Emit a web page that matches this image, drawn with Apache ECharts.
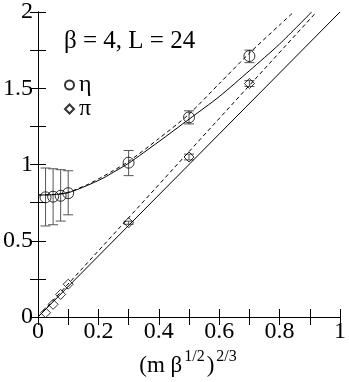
<!DOCTYPE html>
<html>
<head>
<meta charset="utf-8">
<script src="https://cdn.jsdelivr.net/npm/echarts@6/dist/echarts.min.js"></script>
<style>html,body{margin:0;padding:0;background:#fff}#c{width:349px;height:382px}</style>
</head>
<body>
<div id="c"></div>
<script>
// masses (x values)
const xVals = [0.025, 0.05, 0.075, 0.1, 0.3, 0.5, 0.7];
// eta data
const etaY  = [0.785, 0.789, 0.795, 0.812, 1.012, 1.309, 1.711];
const etaLo = [0.597, 0.605, 0.629, 0.670, 0.927, 1.266, 1.668];
const etaHi = [0.977, 0.972, 0.966, 0.959, 1.092, 1.352, 1.750];
// pi data
const piY  = [0.028, 0.083, 0.148, 0.215, 0.618, 1.049, 1.531];
const piLo = [0.028, 0.083, 0.148, 0.215, 0.608, 1.030, 1.512];
const piHi = [0.028, 0.083, 0.148, 0.215, 0.628, 1.068, 1.550];
// fit curves
const etaSolidX = [0, 0.05, 0.1, 0.16, 0.215, 0.25, 0.3, 0.4, 0.5, 0.6, 0.7, 0.8, 0.906];
const etaSolidY = [0.80, 0.802, 0.815, 0.86, 0.91, 0.95, 1.008, 1.15, 1.297, 1.445, 1.615, 1.79, 2.0];
const etaDashX = [0, 0.05, 0.1, 0.16, 0.2, 0.245, 0.3, 0.4, 0.5, 0.6, 0.7, 0.8, 0.847];
const etaDashY = [0.80, 0.803, 0.818, 0.865, 0.905, 0.955, 1.02, 1.17, 1.33, 1.53, 1.73, 1.915, 2.0];
const piDashX = [0, 0.922];
const piDashY = [0, 2.0];
const piSolidX = [0, 1];
const piSolidY = [0, 2];
// axis ticks
const xTicks = [0, 0.2, 0.4, 0.6, 0.8, 1];
const yTicks = [0, 0.5, 1, 1.5, 2];
const titleText = 'β = 4, L = 24';

const zip = (a, b) => a.map((v, i) => [v, b[i]]);
const zip3 = (a, b, c) => a.map((v, i) => [v, b[i], c[i]]);
const FONT = 'Liberation Serif';

function errRender(params, api) {
  const x = api.value(0), lo = api.value(1), hi = api.value(2);
  if (hi - lo < 1e-9) return null;
  const p1 = api.coord([x, lo]), p2 = api.coord([x, hi]);
  const w = 5;
  const st = { stroke: '#555', lineWidth: 1 };
  return { type: 'group', children: [
    { type: 'line', shape: { x1: p1[0], y1: p1[1], x2: p2[0], y2: p2[1] }, style: st },
    { type: 'line', shape: { x1: p1[0] - w, y1: p1[1], x2: p1[0] + w, y2: p1[1] }, style: st },
    { type: 'line', shape: { x1: p2[0] - w, y1: p2[1], x2: p2[0] + w, y2: p2[1] }, style: st }
  ]};
}

const axisCommon = {
  min: 0,
  axisLine: { show: true, lineStyle: { color: '#000', width: 1 } },
  axisTick: { show: true, inside: true, length: 8, lineStyle: { color: '#000' } },
  minorTick: { show: true, splitNumber: 2, length: 8, lineStyle: { color: '#000' } },
  splitLine: { show: false },
  minorSplitLine: { show: false }
};
const labelStyle = { color: '#000', fontFamily: FONT, fontSize: 24 };

const chart = echarts.init(document.getElementById('c'));
chart.setOption({
  animation: false,
  backgroundColor: '#fff',
  graphic: [{
    type: 'text', x: 64, y: 29, z: 10,
    style: { text: titleText, fontFamily: FONT, fontSize: 25, fill: '#000', align: 'left', verticalAlign: 'top' }
  }],
  legend: {
    data: ['η', 'π'], orient: 'vertical', left: 64, top: 73, padding: 0,
    itemGap: 0, itemWidth: 9, itemHeight: 9,
    textStyle: { fontFamily: FONT, fontSize: 24, color: '#000', lineHeight: 22 }
  },
  grid: { left: 34, right: 5, top: 10, bottom: 62 },
  xAxis: [
    Object.assign({}, axisCommon, {
      type: 'value', position: 'bottom', max: 1, interval: 0.2,
      axisLabel: { show: true, margin: 3, ...labelStyle,
        formatter: v => (xTicks.some(t => Math.abs(t - v) < 1e-9) ? String(+v.toFixed(1)) : '') },
      name: '{n|(m β}{s|1/2}{n|)}{s|2/3}', nameLocation: 'middle', nameGap: 32,
      nameTextStyle: { rich: {
        n: { fontFamily: FONT, fontSize: 23, color: '#000', lineHeight: 28, verticalAlign: 'bottom' },
        s: { fontFamily: FONT, fontSize: 16, color: '#000', lineHeight: 28, verticalAlign: 'top', padding: [0, 2, 0, 2] }
      } }
    }),
    Object.assign({}, axisCommon, {
      type: 'value', position: 'top', max: 1, interval: 0.2, axisLabel: { show: false }
    })
  ],
  yAxis: [
    Object.assign({}, axisCommon, {
      type: 'value', position: 'left', max: 2, interval: 0.5,
      axisLabel: { show: true, margin: 5, ...labelStyle,
        formatter: v => (yTicks.some(t => Math.abs(t - v) < 1e-9) ? String(v) : '') }
    }),
    Object.assign({}, axisCommon, {
      type: 'value', position: 'right', max: 2, interval: 0.5, axisLabel: { show: false }
    })
  ],
  series: [
    { type: 'line', data: zip(piSolidX, piSolidY), showSymbol: false, symbol: 'none',
      lineStyle: { color: '#000', width: 1 }, silent: true },
    { type: 'line', data: zip(piDashX, piDashY), showSymbol: false, symbol: 'none',
      lineStyle: { color: '#000', width: 1, type: [4, 3] }, silent: true },
    { type: 'line', data: zip(etaSolidX, etaSolidY), showSymbol: false, symbol: 'none', smooth: 0.25,
      lineStyle: { color: '#000', width: 1 }, silent: true },
    { type: 'line', data: zip(etaDashX, etaDashY), showSymbol: false, symbol: 'none', smooth: 0.25,
      lineStyle: { color: '#000', width: 1, type: [4, 3] }, silent: true },
    { type: 'custom', data: zip3(xVals, etaLo, etaHi), renderItem: errRender, silent: true },
    { type: 'custom', data: zip3(xVals, piLo, piHi), renderItem: errRender, silent: true },
    { name: 'η', type: 'scatter', data: zip(xVals, etaY), symbol: 'circle', symbolSize: 11,
      itemStyle: { color: 'rgba(255,255,255,0)', borderColor: '#000', borderWidth: 1 } },
    { name: 'π', type: 'scatter', data: zip(xVals, piY), symbol: 'diamond', symbolSize: 10,
      itemStyle: { color: 'rgba(255,255,255,0)', borderColor: '#000', borderWidth: 1 } }
  ]
});
</script>
</body>
</html>
